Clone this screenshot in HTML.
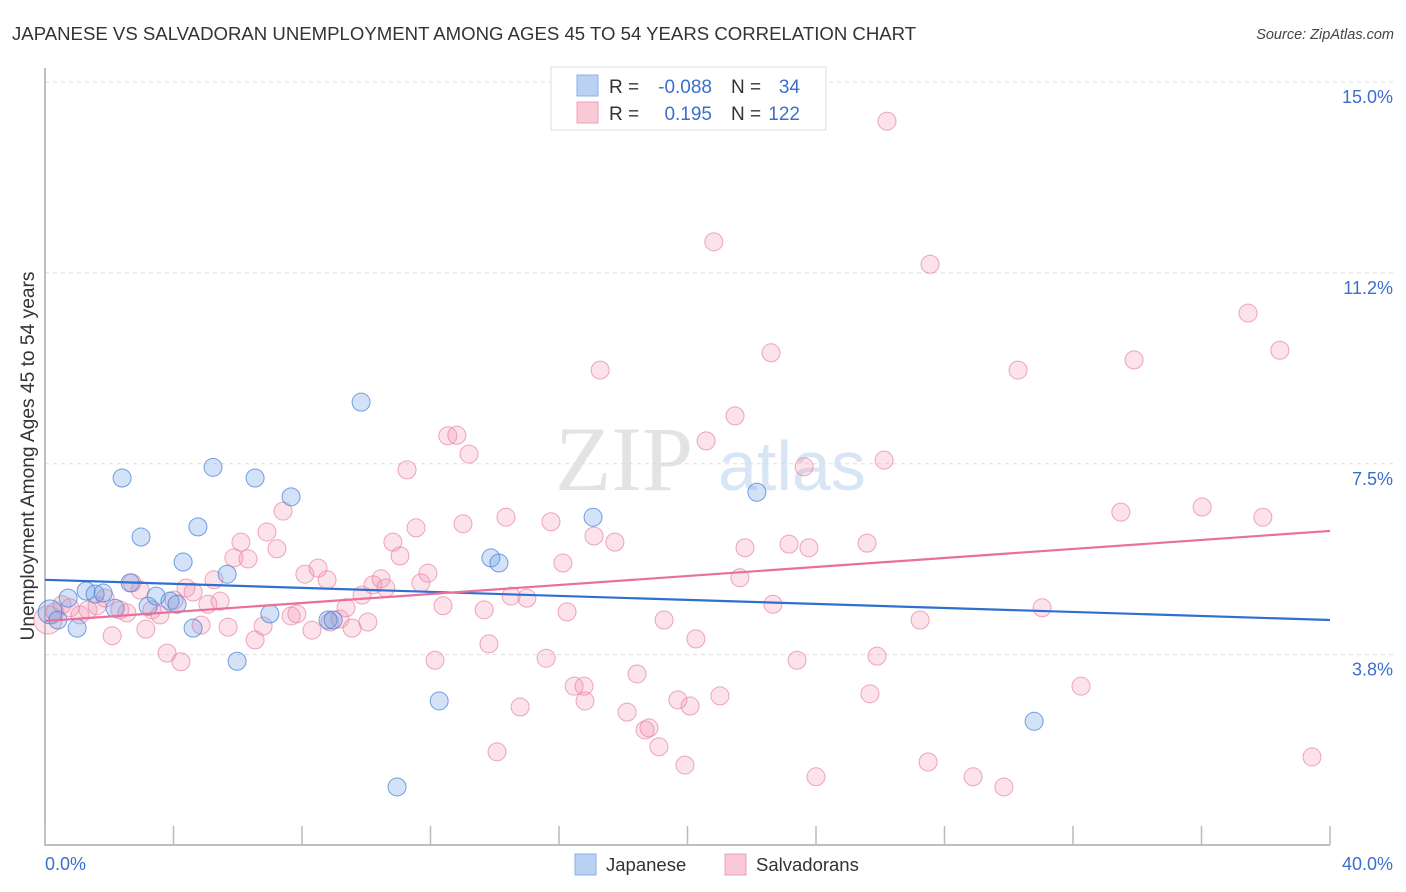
<!DOCTYPE html>
<html><head><meta charset="utf-8">
<style>
body{margin:0;background:#fff;font-family:"Liberation Sans",sans-serif;}
svg{display:block}
</style></head>
<body>
<svg id="chart" width="1406" height="892" xmlns="http://www.w3.org/2000/svg">
<text x="12" y="40" font-size="18.6" fill="#333" font-family="Liberation Sans, sans-serif">JAPANESE VS SALVADORAN UNEMPLOYMENT AMONG AGES 45 TO 54 YEARS CORRELATION CHART</text>
<text x="1394" y="39" font-size="14.5" fill="#444" text-anchor="end" font-style="italic">Source: ZipAtlas.com</text>
<g>
<text x="555" y="490" font-size="92" fill="#ddd" font-family="Liberation Serif, serif" opacity="0.8">ZIP</text>
<text x="718" y="490" font-size="70" fill="#cfdff2" opacity="0.8">atlas</text>
</g>
<g id="grid"></g>
<g id="axes"></g>
<g id="pts-s"></g>
<g id="pts-j"></g>
<g id="lines"></g>
<text transform="translate(34,456) rotate(-90)" font-size="19.2" fill="#333" text-anchor="middle">Unemployment Among Ages 45 to 54 years</text>
<g>
<rect x="551" y="67" width="275" height="63" fill="#fff" stroke="#ddd"/>
<rect x="577" y="75" width="21" height="21" fill="#b9d2f3" stroke="#8ab0e6"/>
<rect x="577" y="102" width="21" height="21" fill="#f9c9d6" stroke="#eea0b8"/>
<text x="609" y="93" font-size="19" fill="#333">R =</text>
<text x="712" y="93" font-size="19" fill="#3a6fcc" text-anchor="end">-0.088</text>
<text x="731" y="93" font-size="19" fill="#333">N =</text>
<text x="800" y="93" font-size="19" fill="#3a6fcc" text-anchor="end">34</text>
<text x="609" y="120" font-size="19" fill="#333">R =</text>
<text x="712" y="120" font-size="19" fill="#3a6fcc" text-anchor="end">0.195</text>
<text x="731" y="120" font-size="19" fill="#333">N =</text>
<text x="800" y="120" font-size="19" fill="#3a6fcc" text-anchor="end">122</text>
</g>
<g>
<rect x="575" y="854" width="21" height="21" fill="#b9d2f3" stroke="#8ab0e6"/>
<text x="606" y="871" font-size="18.5" fill="#333">Japanese</text>
<rect x="725" y="854" width="21" height="21" fill="#f9c9d6" stroke="#eea0b8"/>
<text x="756" y="871" font-size="18.5" fill="#333">Salvadorans</text>
</g>
</svg>
<script>
const jpX=[0.16,0.40,0.72,1.0,1.28,1.56,1.81,2.18,2.40,2.65,2.99,3.21,3.46,3.89,4.11,4.30,4.61,4.76,5.23,5.67,5.98,6.54,7.0,7.66,8.81,8.97,9.84,10.96,12.27,13.88,14.13,17.06,22.16,30.79];
const jpY=[4.59,4.43,4.86,4.27,5.0,4.94,4.96,4.66,7.22,5.16,6.06,4.70,4.90,4.80,4.74,5.57,4.27,6.26,7.43,5.33,3.62,7.22,4.55,6.85,4.43,4.43,8.71,1.15,2.84,5.65,5.55,6.45,6.94,2.44];
const svX=[0.09,0.31,0.53,0.78,1.09,1.34,1.62,1.87,2.09,2.33,2.55,2.71,2.96,3.14,3.33,3.58,3.80,4.02,4.23,4.39,4.61,4.86,5.07,5.26,5.45,5.70,5.88,6.10,6.32,6.54,6.79,6.91,7.22,7.41,7.66,7.84,8.09,8.31,8.50,8.78,8.87,9.18,9.37,9.56,9.87,10.05,10.21,10.46,10.61,10.83,11.05,11.27,11.55,11.70,11.92,12.14,12.39,12.54,12.82,13.01,13.20,13.67,13.82,14.07,14.35,14.51,14.79,15.00,15.60,15.75,16.12,16.25,16.47,16.78,16.81,17.09,17.28,17.74,18.12,18.43,18.68,18.80,19.11,19.27,19.70,19.92,20.08,20.26,20.58,20.82,21.01,21.48,21.63,21.79,22.60,22.66,23.16,23.41,23.63,23.78,24.00,25.59,25.68,25.90,26.12,26.21,27.24,27.49,27.55,28.89,29.85,30.29,31.04,32.25,33.49,33.90,36.02,37.45,37.91,38.44,39.44];
const svY=[4.43,4.59,4.73,4.67,4.53,4.63,4.71,4.86,4.12,4.63,4.57,5.16,5.02,4.25,4.63,4.53,3.78,4.82,3.61,5.06,4.98,4.33,4.74,5.22,4.80,4.29,5.65,5.96,5.63,4.04,4.31,6.16,5.83,6.57,4.51,4.55,5.33,4.23,5.45,5.22,4.39,4.45,4.67,4.27,4.92,4.39,5.12,5.24,5.06,5.96,5.69,7.38,6.24,5.16,5.35,3.64,4.71,8.05,8.06,6.32,7.69,4.63,3.96,1.84,6.45,4.90,2.72,4.86,3.68,6.36,5.55,4.59,3.13,3.13,2.84,6.08,9.34,5.96,2.62,3.37,2.27,2.31,1.94,4.43,2.86,1.58,2.74,4.06,7.95,11.86,2.94,8.44,5.26,5.85,9.68,4.74,5.92,3.64,7.44,5.85,1.35,5.94,2.98,3.72,7.57,14.23,4.43,1.64,11.42,1.35,1.15,9.34,4.67,3.13,6.55,9.54,6.65,10.46,6.45,9.73,1.74];
const yTicks=[3.75,7.5,11.25,15];
const yTickLabels=["3.8%","7.5%","11.2%","15.0%"];
const xTicks=[0,4,8,12,16,20,24,28,32,36,40];
const jpTrend=[5.22,4.43];
const svTrend=[4.41,6.18];
const NS="http://www.w3.org/2000/svg";
const X=v=>45+v/40*1285;
const Y=v=>82+(15-v)*50.9;
function mk(t,a,p){const e=document.createElementNS(NS,t);for(const k in a)e.setAttribute(k,a[k]);p.appendChild(e);return e;}
const grid=document.getElementById('grid'),axes=document.getElementById('axes');
yTicks.forEach((v,i)=>{
 const l=mk('line',{x1:45,x2:1394,y1:Y(v),y2:Y(v),stroke:'#ddd','stroke-dasharray':'4,4'},grid);
 
 
 const t=mk('text',{x:1393,y:Y(v)+21,'font-size':18,fill:'#3a6fcc','text-anchor':'end'},axes);
 t.textContent=yTickLabels[i];
 
 
});
const ax=mk('path',{d:'M45,68 V845 H1330',fill:'none',stroke:'#aaa','stroke-width':1.5},axes);


xTicks.forEach(v=>{
 const l=mk('line',{x1:X(v),x2:X(v),y1:826,y2:845,stroke:'#bbb','stroke-width':1.5},axes);
 
 
});
const xl0=mk('text',{x:45,y:870,'font-size':18,fill:'#3a6fcc'},axes);xl0.textContent='0.0%';


const xl1=mk('text',{x:1393,y:870,'font-size':18,fill:'#3a6fcc','text-anchor':'end'},axes);xl1.textContent='40.0%';


const ps=document.getElementById('pts-s');
svX.forEach((x,i)=>{
 const c=mk('circle',{cx:X(x),cy:Y(svY[i]),r:i==0?14:9,fill:'rgba(244,150,178,0.28)',stroke:'rgba(232,130,160,0.7)','stroke-width':1},ps);
 
 
});
const pj=document.getElementById('pts-j');
jpX.forEach((x,i)=>{
 const c=mk('circle',{cx:X(x),cy:Y(jpY[i]),r:i==0?12:9,fill:'rgba(110,160,230,0.3)',stroke:'rgba(70,130,220,0.75)','stroke-width':1},pj);
 
 
});
const lg=document.getElementById('lines');
const lj=mk('line',{x1:X(0),x2:X(40),y1:Y(jpTrend[0]),y2:Y(jpTrend[1]),stroke:'#2f6fd0','stroke-width':2.2},lg);


const ls=mk('line',{x1:X(0),x2:X(40),y1:Y(svTrend[0]),y2:Y(svTrend[1]),stroke:'#e8709a','stroke-width':2.2},lg);


</script>
</body></html>
